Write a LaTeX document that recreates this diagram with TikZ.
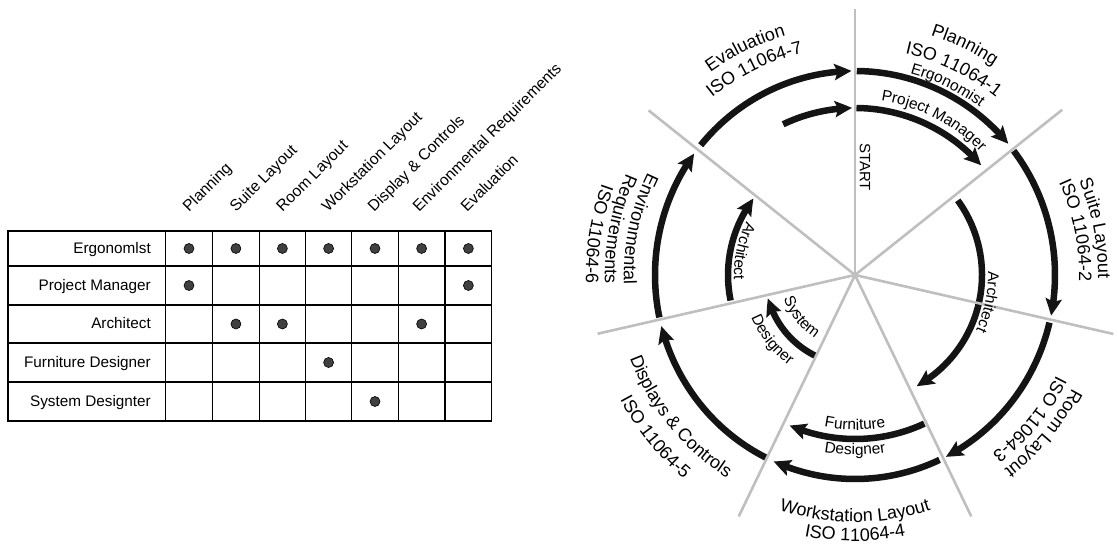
\documentclass[tikz,border=0pt]{standalone}
\usepackage{fontspec}
\setmainfont{Liberation Sans}
\usetikzlibrary{arrows.meta,bending,calc,decorations.text}
\newcommand\cwlabel[4]{\path[decorate,decoration={text along path,text align=center,text={|\fontsize{#3}{#3}\selectfont|#4}}] ($(C)+(#1+60:#2pt)$) arc[start angle=#1+60, end angle=#1-60, radius=#2pt];}
\newcommand\ccwlabel[4]{\path[decorate,decoration={text along path,text align=center,text={|\fontsize{#3}{#3}\selectfont|#4}}] ($(C)+(#1-60:#2pt)$) arc[start angle=#1-60, end angle=#1+60, radius=#2pt];}
\begin{document}
\begin{tikzpicture}[x=1pt,y=1pt,
  spoke/.style={draw=black!25, line width=2.6pt},
  flow/.style={draw=black!92, line width=6.5pt, -{Stealth[length=17pt,width=16pt,inset=3pt,bend]}},
  gridline/.style={draw=black, line width=1.2pt},
  dot/.style={circle, draw=black, line width=0.6pt, fill=black!75, minimum size=10pt, inner sep=0pt},
  rowlab/.style={anchor=base east, inner sep=0pt, font=\fontsize{15.3}{18}\selectfont},
  collab/.style={anchor=base west, inner sep=0pt, rotate=45, font=\fontsize{15.7}{18}\selectfont},
  startlab/.style={rotate=-90, inner sep=0pt, font=\fontsize{15}{15}\selectfont},
]
\useasboundingbox (0,0) rectangle (1118,545);

% ---------------- table ----------------
\draw[gridline] (8,124) rectangle (491.8,314);
\foreach \yy in {279,240,202,163} \draw[gridline] (8,\yy) -- (491.8,\yy);
\foreach \xx in {165.4,212.5,259.3,305.4,351.8,398.2,445} \draw[gridline] (\xx,124) -- (\xx,314);

\node[rowlab] (r1) at (151,291.5) {Ergonomlst};
\node[rowlab] (r2) at (151,254.5) {Project Manager};
\node[rowlab] (r3) at (151,216) {Architect};
\node[rowlab] (r4) at (151,177.5) {Furniture Designer};
\node[rowlab] (r5) at (151,138.5) {System Designter};

\node[collab] (c1) at (189,332) {Planning};
\node[collab] (c2) at (236,332) {Suite Layout};
\node[collab] (c3) at (282.5,332) {Room Layout};
\node[collab] (c4) at (328,332) {Workstation Layout};
\node[collab] (c5) at (374,332) {Display \& Controls};
\node[collab] (c6) at (419,332) {Environmental Requirements};
\node[collab] (c7) at (467,332) {Evaluation};

\foreach \i/\xx in {1/189,2/235.9,3/282.4,4/328.6,5/375,6/421.6,7/468.4}
  \node[dot] (d1\i) at (\xx,296.5) {};
\node[dot] (d21) at (189,259.5) {};
\node[dot] (d27) at (468.4,259.5) {};
\node[dot] (d32) at (235.9,221) {};
\node[dot] (d33) at (282.4,221) {};
\node[dot] (d36) at (421.6,221) {};
\node[dot] (d44) at (328.6,182.5) {};
\node[dot] (d55) at (375,143.5) {};

% ---------------- cycle ----------------
\coordinate (C) at (855,270);

% outer ring arrows
\coordinate (o1) at ($(C)+(89.5:200pt and 204pt)$);
\draw[flow] (o1) arc[start angle=89.5, end angle=40, x radius=200pt, y radius=204pt];
\coordinate (o2) at ($(C)+(37.5:200pt and 204pt)$);
\draw[flow] (o2) arc[start angle=37.5, end angle=-11.5, x radius=200pt, y radius=204pt];
\coordinate (o3) at ($(C)+(-13.5:200pt and 204pt)$);
\draw[flow] (o3) arc[start angle=-13.5, end angle=-63, x radius=200pt, y radius=204pt];
\coordinate (o4) at ($(C)+(-65:200pt and 204pt)$);
\draw[flow] (o4) arc[start angle=-65, end angle=-114, x radius=200pt, y radius=204pt];
\coordinate (o5) at ($(C)+(-116.5:200pt and 204pt)$);
\draw[flow] (o5) arc[start angle=-116.5, end angle=-165.5, x radius=200pt, y radius=204pt];
\coordinate (o6) at ($(C)+(192:200pt and 204pt)$);
\draw[flow] (o6) arc[start angle=192, end angle=143.5, x radius=200pt, y radius=204pt];
\coordinate (o7) at ($(C)+(140.5:200pt and 204pt)$);
\draw[flow] (o7) arc[start angle=140.5, end angle=91, x radius=200pt, y radius=204pt];

% inner arrows
\coordinate (pm) at ($(C)+(89.5:167pt)$);
\draw[flow] (pm) arc[start angle=89.5, end angle=41, radius=167pt];
\coordinate (ev) at ($(C)+(115.5:167pt)$);
\draw[flow] (ev) arc[start angle=115.5, end angle=91, radius=167pt];
\coordinate (ar1) at ($(C)+(36:127pt)$);
\draw[flow] (ar1) arc[start angle=36, end angle=-61, radius=127pt];
\coordinate (fd) at ($(C)+(-65:164pt)$);
\draw[flow] (fd) arc[start angle=-65, end angle=-113.5, radius=164pt];
\coordinate (sd) at ($(C)+(-116:90pt)$);
\draw[flow] (sd) arc[start angle=-116, end angle=-165, radius=90pt];
\coordinate (ar2) at ($(C)+(191.6:127pt)$);
\draw[flow] (ar2) arc[start angle=191.6, end angle=143, radius=127pt];

% spokes
\foreach \i/\a/\l in {0/90/266,1/38.571/265,2/-12.857/265,3/-64.286/268,4/-115.714/268,5/-167.143/264,6/141.429/264}{
  \coordinate (s\i) at ($(C)+(\a:\l pt)$);
  \draw[spoke] (C) -- (s\i);
}

\node[startlab] (start) at (865,378) {START};

% labels, clockwise (tops outward)
\cwlabel{115.8}{249}{18}{Evaluation}
\cwlabel{116}{228}{18}{ISO 11064-7}
\cwlabel{64.5}{251}{18}{Planning}
\cwlabel{64.4}{227}{18}{ISO 11064-1}
\cwlabel{64}{209}{15.5}{Ergonomist}
\cwlabel{63}{176}{15.5}{Project Manager}
\cwlabel{11}{243}{18}{Suite Layout}
\cwlabel{11.4}{224}{18}{ISO 11064-2}
\cwlabel{-40}{245}{18}{Room Layout}
\cwlabel{-39.5}{225}{18}{ISO 11064-3}
\cwlabel{-11.5}{133}{15.5}{Architect}
% labels, counterclockwise (tops inward)
\ccwlabel{-90}{247}{18}{Workstation Layout}
\ccwlabel{-90}{266}{18}{ISO 11064-4}
\ccwlabel{-141}{240}{18}{Displays {\&} Controls}
\ccwlabel{-141}{266}{18}{ISO 11064-5}
\ccwlabel{168}{231}{18}{Environmental}
\ccwlabel{169}{250}{18}{Requirements}
\ccwlabel{171}{269}{18}{ISO 11064-6}
\ccwlabel{168}{121}{15.5}{Architect}
\ccwlabel{-142}{75}{15.5}{System}
\ccwlabel{-142}{112}{15.5}{Designer}
\ccwlabel{-90}{155}{15.5}{Furniture}
\ccwlabel{-90}{180}{15.5}{Designer}
\end{tikzpicture}
\end{document}
